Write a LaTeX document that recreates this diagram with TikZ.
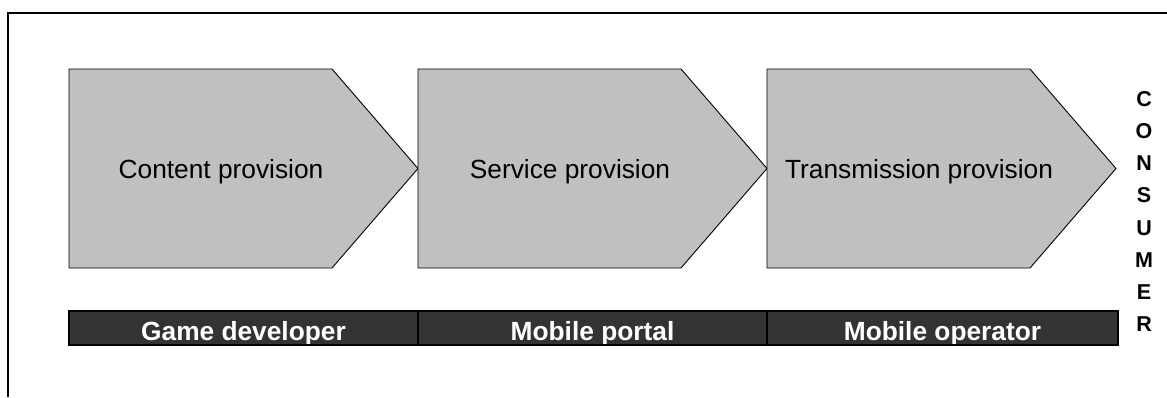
\documentclass[tikz,border=0pt]{standalone}
\usepackage{fontspec}
\setmainfont{Liberation Sans}
\definecolor{chevgray}{HTML}{C0C0C0}
\definecolor{bardark}{HTML}{333333}
\tikzset{
  chevshape/.style={fill=chevgray, draw=black, line width=0.9pt, line join=miter},
  chevtext/.style={anchor=base, inner sep=0pt, font=\fontsize{26.3}{30}\selectfont},
  barseg/.style={fill=bardark, draw=black, line width=1.6pt},
  bartext/.style={anchor=base, inner sep=0pt, text=white, font=\fontsize{26.3}{30}\selectfont\bfseries},
  lettertext/.style={anchor=base, inner sep=0pt, font=\fontsize{21.5}{24}\selectfont\bfseries},
  frameline/.style={draw=black, line width=2pt}
}
\begin{document}
\begin{tikzpicture}[x=1pt, y=-1pt]
  \useasboundingbox (0,0) rectangle (1167,397);
  % outer frame (left and top edges)
  \draw[frameline] (7.5,397) -- (7.5,13) -- (1167,13);

  % value chain stages
  \foreach \xl/\name/\txt in {69/stageA/Content provision,
                             418/stageB/Service provision,
                             767/stageC/Transmission provision}{
    \draw[chevshape] (\xl,69) -- (\xl+263,69) -- (\xl+349,168.5)
                     -- (\xl+263,268) -- (\xl,268) -- cycle;
    \node[chevtext] (\name) at (\xl+152,178) {\txt};
  }

  % actors bar
  \foreach \xa/\xb/\name/\txt in {69/418/actorA/Game developer,
                                  418/767/actorB/Mobile portal,
                                  767/1118/actorC/Mobile operator}{
    \draw[barseg] (\xa,311) rectangle (\xb,345);
    \node[bartext] (\name) at ({(\xa+\xb)/2},340) {\txt};
  }
  \draw[draw=black, line width=2pt] (69,311) rectangle (1118,345);

  % vertical label
  \foreach \ch [count=\k from 0] in {C,O,N,S,U,M,E,R}{
    \node[lettertext] (cons\k) at (1144,{106.5+32.15*\k}) {\ch};
  }
\end{tikzpicture}
\end{document}
